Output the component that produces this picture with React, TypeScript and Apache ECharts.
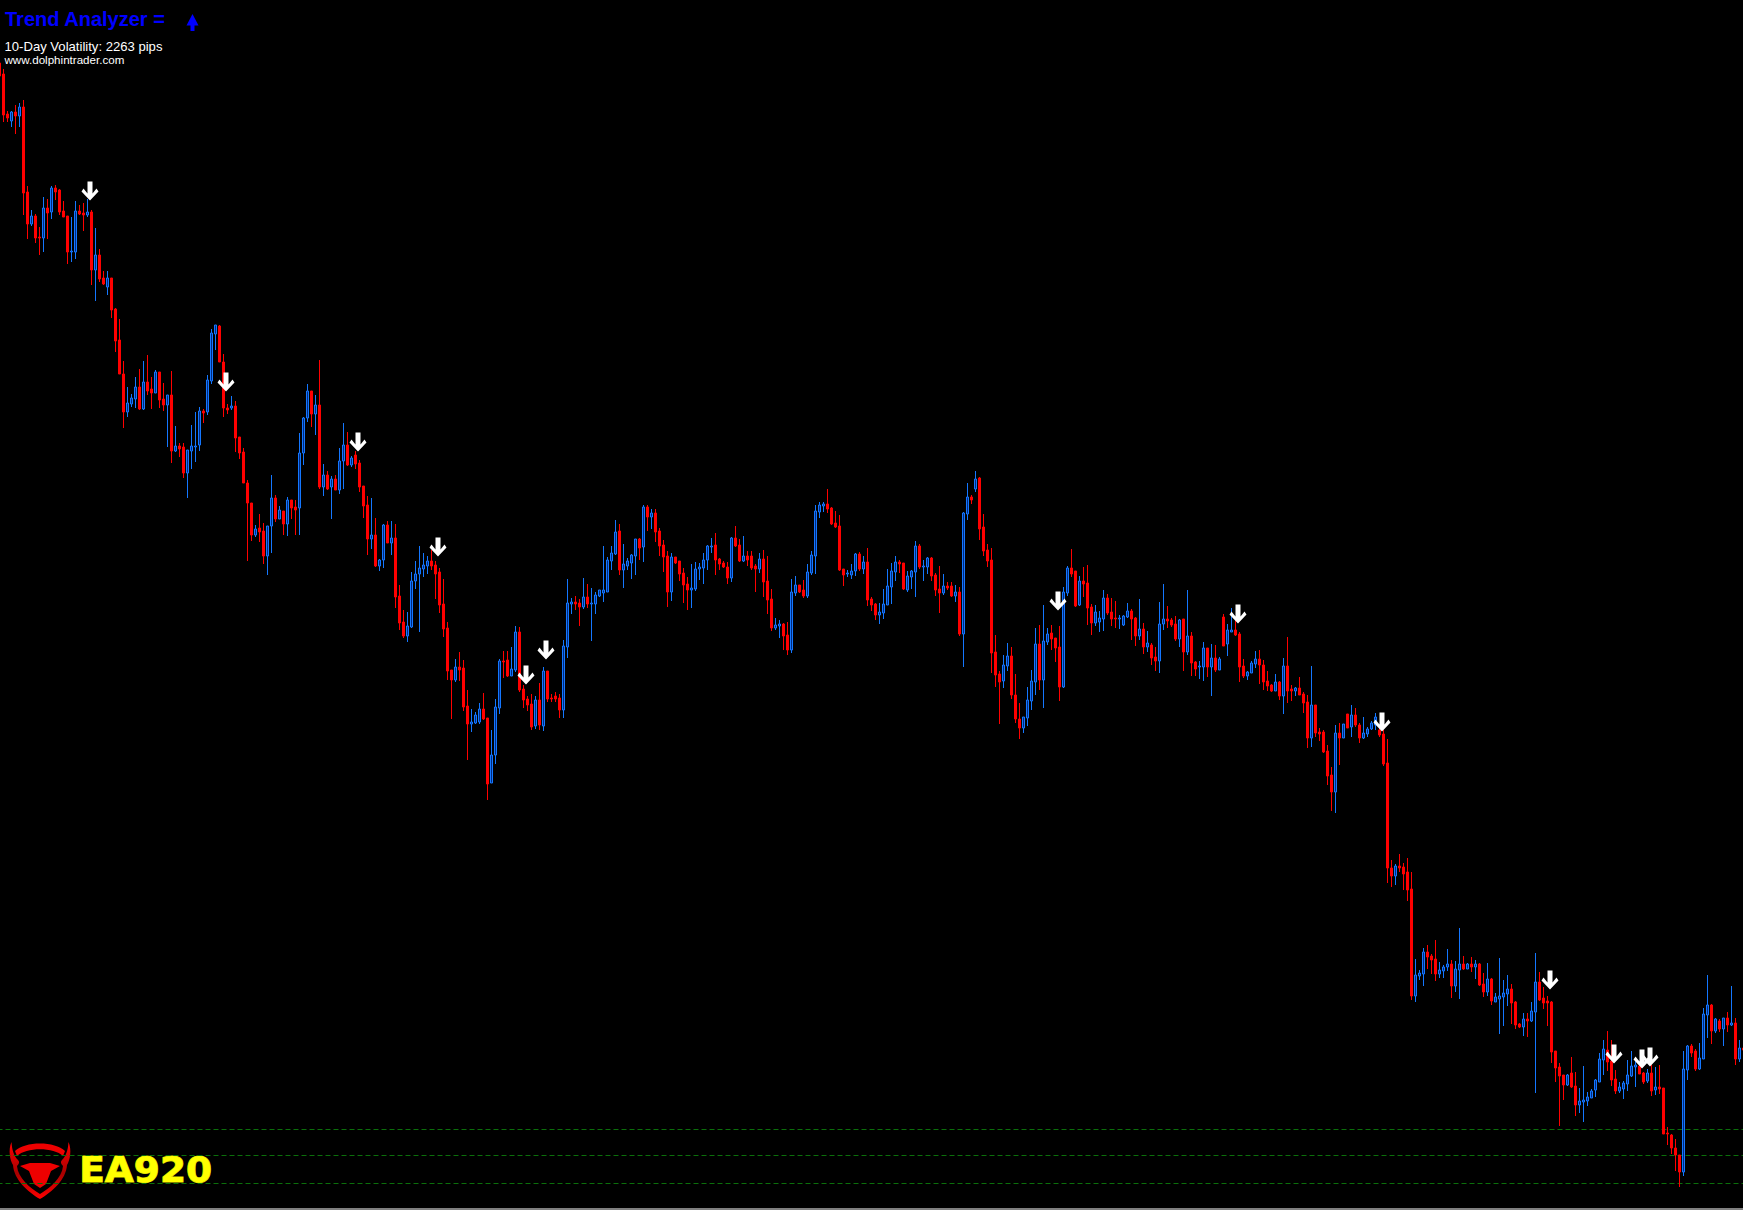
import React, { useEffect, useRef } from "react";
import * as echarts from "echarts";

const SCALE_TOP = 1210;

// [open, close, high, low], one row per bar
const candles: number[][] = [
[63,76,62,76],[74,115,69,122],[114,118,111,122],[121,112,111,127],[112,116,105,134],[116,107,103,127],[107,193,100,215],[192,224,186,239],[224,216,210,226],[216,238,214,243],
[237,238,227,255],[238,208,197,252],[208,213,199,239],[212,188,186,219],[188,192,185,200],[190,212,189,215],[211,217,201,217],[216,252,216,264],[252,251,217,262],[252,211,201,259],
[211,214,205,215],[213,215,203,231],[215,212,199,217],[212,270,210,285],[270,255,228,301],[255,279,249,282],[278,284,271,285],[287,278,271,295],[278,310,278,318],[309,341,308,352],
[340,374,319,374],[374,412,361,428],[412,403,387,417],[404,398,394,407],[399,387,377,408],[387,409,369,410],[409,382,361,410],[382,391,355,395],[389,393,377,409],[393,372,370,393],
[372,400,372,408],[399,405,383,411],[405,395,395,447],[395,451,371,463],[451,446,426,452],[446,449,443,457],[447,473,443,478],[473,450,450,498],[451,446,425,469],[447,446,412,462],
[445,411,407,451],[411,413,409,423],[412,380,375,415],[381,333,329,384],[334,325,325,350],[326,362,325,362],[362,408,354,417],[408,410,404,414],[408,406,396,410],[406,438,401,452],
[437,453,437,459],[452,483,448,483],[483,503,480,561],[503,535,503,541],[535,529,525,537],[528,532,514,542],[531,556,523,564],[556,526,526,575],[526,498,475,553],[498,519,495,522],
[519,510,506,519],[511,524,511,535],[524,500,497,536],[500,508,500,519],[507,510,500,535],[508,453,433,535],[453,418,417,465],[418,391,384,422],[391,414,391,427],[414,405,395,435],
[405,487,360,489],[487,475,464,496],[475,489,471,490],[487,479,476,519],[479,490,475,490],[490,461,448,494],[461,445,423,489],[445,465,432,466],[465,458,456,467],[455,464,451,469],
[463,487,460,492],[486,506,486,518],[505,539,496,555],[539,535,498,549],[535,566,518,567],[566,560,559,571],[560,525,524,568],[525,543,521,543],[543,538,521,555],[538,597,524,608],
[596,623,585,630],[622,636,610,638],[636,626,612,642],[627,581,572,628],[581,574,561,589],[574,568,546,632],[569,565,553,577],[566,561,556,574],[561,566,550,570],[565,574,561,599],
[572,605,568,613],[604,629,579,637],[628,671,622,680],[670,680,670,719],[680,667,659,682],[667,670,652,681],[668,707,660,711],[706,724,690,760],[724,722,709,732],[723,715,712,724],
[722,709,703,724],[709,719,693,720],[718,784,718,800],[783,755,730,783],[755,707,699,764],[708,661,659,714],[661,662,651,678],[660,676,651,677],[676,669,647,676],[670,632,626,672],
[632,690,627,692],[689,700,685,708],[699,705,696,711],[704,727,694,730],[726,700,696,729],[700,725,683,730],[726,671,667,731],[671,699,671,702],[698,699,694,702],[696,699,692,702],
[698,710,694,718],[710,646,640,718],[647,603,579,658],[604,602,598,614],[602,604,596,610],[603,607,599,626],[607,597,578,609],[597,604,584,608],[604,603,588,641],[604,595,592,614],
[596,590,590,597],[593,590,546,602],[592,560,557,592],[561,553,546,570],[554,532,520,555],[531,570,524,575],[570,564,544,588],[566,561,558,570],[563,555,554,579],[556,539,539,575],
[539,548,538,560],[547,507,505,562],[507,517,505,531],[517,513,509,529],[513,532,509,542],[531,546,528,556],[545,557,540,572],[556,592,551,607],[592,557,553,601],[557,563,557,564],
[561,574,561,581],[573,585,568,603],[584,590,577,610],[590,588,564,608],[589,569,562,591],[569,567,563,580],[568,560,553,584],[560,546,545,570],[547,546,538,553],[545,560,533,575],
[559,564,558,570],[563,567,561,568],[567,578,562,584],[578,538,537,582],[538,546,526,547],[545,561,539,562],[561,556,536,562],[556,560,551,566],[556,568,551,570],[566,569,564,592],
[569,559,553,573],[559,582,550,597],[581,600,556,614],[599,628,589,631],[628,625,618,630],[626,624,620,638],[624,636,623,650],[635,650,622,655],[650,592,579,653],[593,585,576,596],
[585,592,585,593],[590,596,580,598],[596,572,564,598],[573,555,551,575],[556,511,505,574],[512,505,502,518],[506,504,502,512],[504,509,489,513],[508,524,507,525],[523,527,511,528],
[526,570,515,571],[569,575,569,586],[574,573,570,577],[575,571,564,579],[571,554,553,576],[554,569,552,571],[569,562,556,574],[562,600,548,606],[599,605,597,611],[604,615,603,620],
[615,612,603,624],[613,604,589,619],[605,586,569,605],[587,571,563,604],[572,562,556,581],[562,564,560,573],[563,589,563,590],[590,576,571,592],[577,571,570,589],[572,546,541,597],
[546,567,544,569],[567,566,560,581],[567,558,557,574],[558,576,557,581],[575,590,573,596],[589,593,566,613],[593,586,574,595],[586,588,582,590],[586,596,582,597],[596,592,585,602],
[592,634,587,636],[634,513,512,667],[514,497,483,520],[497,500,495,504],[489,479,471,492],[478,529,477,540],[527,551,514,556],[550,561,544,567],[560,653,548,673],[652,675,635,687],
[674,682,671,724],[681,665,655,688],[666,656,643,671],[656,695,647,699],[695,719,674,723],[719,728,703,739],[728,717,717,733],[718,700,687,726],[701,681,670,710],[682,644,628,695],
[644,680,625,690],[680,641,605,708],[642,634,628,645],[633,639,625,650],[638,648,638,662],[647,687,626,701],[687,592,587,688],[593,568,566,596],[568,574,549,577],[571,606,571,607],
[605,581,576,606],[581,584,567,597],[583,608,565,625],[607,623,604,635],[623,612,605,626],[622,618,611,632],[619,598,590,631],[598,613,594,615],[612,619,598,626],[618,619,601,628],
[619,618,615,629],[625,616,615,626],[617,611,603,618],[611,619,609,640],[618,636,617,646],[636,629,599,640],[629,647,623,654],[647,643,631,652],[645,658,643,665],[657,661,647,671],
[661,624,602,673],[624,619,584,630],[619,621,606,628],[620,625,618,627],[624,639,616,641],[639,620,619,647],[619,652,619,671],[652,636,590,655],[636,663,632,676],[662,669,661,676],
[667,666,661,679],[667,648,642,681],[648,667,648,677],[667,658,644,696],[658,670,645,672],[670,659,657,670],[617,646,614,646],[644,630,624,656],[632,630,608,632],[630,635,620,636],
[634,667,632,682],[666,676,659,678],[676,672,671,680],[673,663,661,673],[664,659,651,668],[659,665,650,684],[665,682,660,690],[681,686,671,691],[685,691,684,692],[691,682,674,691],
[682,696,681,700],[696,666,658,714],[666,691,637,703],[689,691,685,701],[691,688,687,696],[688,695,677,695],[694,703,692,713],[702,738,695,748],[738,705,666,747],[705,733,705,737],
[732,734,728,741],[732,752,730,753],[751,776,745,785],[775,792,767,811],[792,733,725,813],[733,738,723,765],[738,724,724,738],[714,728,714,728],[727,715,705,737],[715,725,708,727],
[725,738,723,743],[738,733,717,739],[734,729,727,737],[729,723,721,730],[725,717,713,730],[730,735,725,737],[734,764,730,766],[763,868,739,883],[868,876,860,887],[876,866,864,885],
[866,868,854,872],[867,874,863,890],[872,890,858,901],[889,996,872,1000],[996,975,959,1002],[976,973,970,980],[974,952,948,986],[952,957,945,969],[956,960,954,974],[959,974,940,981],
[974,970,962,978],[971,967,965,978],[967,964,949,971],[964,986,960,998],[986,969,961,992],[970,964,928,999],[964,969,956,970],[969,964,963,969],[964,967,957,972],[967,964,960,979],
[964,985,963,986],[984,992,973,997],[992,979,963,996],[979,1001,978,1005],[1002,997,993,1002],[999,996,958,1034],[997,993,980,1026],[994,989,975,1006],[989,1003,984,1024],[1002,1025,1001,1029],
[1024,1027,1023,1028],[1027,1019,1013,1036],[1019,1021,1013,1037],[1021,1011,1002,1022],[1012,982,953,1093],[982,1000,972,1001],[998,1003,987,1009],[1001,1003,996,1026],[1002,1052,1001,1063],[1051,1068,1051,1082],
[1067,1076,1063,1126],[1075,1085,1075,1100],[1085,1075,1074,1086],[1073,1087,1057,1088],[1086,1105,1072,1116],[1105,1101,1088,1113],[1102,1100,1066,1122],[1101,1097,1092,1106],[1098,1091,1089,1098],[1090,1080,1079,1097],
[1082,1059,1053,1082],[1060,1049,1040,1075],[1050,1062,1031,1071],[1061,1080,1040,1086],[1079,1091,1070,1094],[1091,1087,1082,1093],[1089,1083,1081,1099],[1084,1075,1060,1091],[1076,1066,1051,1077],[1067,1065,1060,1087],
[1066,1074,1063,1074],[1073,1082,1072,1084],[1081,1073,1069,1083],[1073,1091,1065,1096],[1090,1087,1067,1095],[1087,1089,1065,1094],[1088,1134,1088,1134],[1133,1134,1127,1145],[1135,1148,1134,1154],[1148,1155,1139,1171],
[1155,1172,1155,1187],[1172,1069,1051,1176],[1070,1046,1045,1080],[1046,1053,1044,1057],[1051,1069,1049,1071],[1069,1058,1043,1070],[1059,1014,1008,1059],[1015,1005,975,1038],[1005,1031,1004,1044],[1031,1019,1018,1033],
[1021,1029,1019,1032],[1029,1018,1018,1046],[1018,1025,1012,1032],[1025,1023,986,1026],[1023,1059,1018,1065],[1059,1048,1040,1062],[1048,1050,1046,1052],
];

const signalBars = [23, 57, 90, 110, 132, 137, 265, 310, 346, 388, 404, 411, 413];
const signalLevels = [191, 382, 442, 547, 675, 650, 601, 614, 722, 980, 1054, 1059, 1057];
const dottedLevels = [1129.5, 1155.5, 1183.5];

const titleText = "Trend Analyzer =";
const volatilityText = "10-Day Volatility: 2263 pips";
const siteText = "www.dolphintrader.com";
const brandText = "EA920";

const ARROW = "path://M6 0L11 0L11 12L15 7L17 10L8.5 19L0 10L2 7L6 12Z";

echarts.graphic.registerShape(
  "bullArc",
  echarts.graphic.extendPath(
    "M15 1151C25 1141 55 1141 65 1151L63 1156C54 1147 26 1147 17 1156Z",
    {}
  )
);
echarts.graphic.registerShape(
  "bullShield",
  echarts.graphic.extendPath(
    "M11.5 1142C8 1150 10 1160 13 1165C14 1180 28 1192 40 1199C52 1192 66 1180 67 1165C70 1160 72 1150 68.5 1142C68 1150 66 1156 62 1160C60 1162 61 1164 63 1166C62 1178 50 1188 40 1194C30 1188 18 1178 17 1166C19 1164 20 1162 18 1160C14 1156 12 1150 11.5 1142Z",
    {}
  )
);
echarts.graphic.registerShape(
  "bullHead",
  echarts.graphic.extendPath(
    "M20 1166L30 1163L50 1163L60 1166L51 1171L46 1184L40 1188L34 1184L29 1171Z",
    {}
  )
);

export default function App() {
  const ref = useRef<HTMLDivElement>(null);
  useEffect(() => {
    document.body.style.margin = "0";
    document.body.style.background = "#000";
    const chart = echarts.init(ref.current!, undefined, { renderer: "svg" });
    const toPrice = (d: number) => SCALE_TOP - d;
    const categories = candles.map((_, i) => String(i));
    const ohlc = candles.map(([o, c, h, l]) => [toPrice(o), toPrice(c), toPrice(l), toPrice(h)]);
    const redGradient = new echarts.graphic.LinearGradient(0, 0, 0, 1, [
      { offset: 0, color: "#ff0000" },
      { offset: 0.55, color: "#a80000" },
      { offset: 1, color: "#ff0000" },
    ]);
    chart.setOption({
      animation: false,
      backgroundColor: "#000000",
      grid: { left: 0.5, top: 0, width: candles.length * 4, height: SCALE_TOP, containLabel: false },
      tooltip: { show: false },
      xAxis: { type: "category", data: categories, show: false, boundaryGap: true },
      yAxis: { type: "value", min: 0, max: SCALE_TOP, show: false, splitLine: { show: false } },
      series: [
        {
          type: "line",
          data: [],
          silent: true,
          z: 1,
          markLine: {
            silent: true,
            z: 1,
            symbol: "none",
            label: { show: false },
            lineStyle: { color: "#0b6f0b", width: 1, type: [5, 3] },
            data: dottedLevels.map((d) => ({ yAxis: toPrice(d) })),
          },
        },
        {
          type: "candlestick",
          data: ohlc,
          barWidth: 2,
          z: 2,
          silent: true,
          itemStyle: {
            color: "#002a80",
            color0: "#ff0000",
            borderColor: "#1477ff",
            borderColor0: "#ff0000",
            borderWidth: 1,
          },
        },
        {
          type: "scatter",
          data: signalBars.map((b, i) => [b, toPrice(signalLevels[i])]),
          symbol: ARROW,
          symbolSize: [17, 19],
          symbolOffset: [-1.5, 0],
          itemStyle: { color: "#ffffff", opacity: 1 },
          silent: true,
          z: 5,
        },
      ],
      graphic: [
        {
          type: "group",
          x: 3,
          y: 0,
          children: [
            { type: "text", x: 5, y: 9, style: { text: titleText, fill: "#0000ff", font: "bold 20px 'Liberation Sans'" } },
            {
              type: "polygon",
              shape: { points: [[192.5, 14], [198.5, 25.5], [194.5, 25.5], [194.5, 31], [190.5, 31], [190.5, 25.5], [186.5, 25.5]] },
              style: { fill: "#0000ff" },
            },
            { type: "text", x: 4.5, y: 40, style: { text: volatilityText, fill: "#ffffff", font: "13.1px 'Liberation Sans'" } },
            { type: "text", x: 4.5, y: 53.5, style: { text: siteText, fill: "#ffffff", font: "11.6px 'Liberation Sans'" } },
            { type: "bullArc", style: { fill: "#ee0000" } },
            { type: "bullShield", style: { fill: redGradient } },
            { type: "bullHead", style: { fill: "#ee0000" } },
            {
              type: "text",
              x: 82.5,
              y: 1152,
              scaleX: 1.04,
              originX: 80,
              style: { text: brandText, fill: "#ffff00", stroke: "#d8d800", lineWidth: 1.2, font: "bold 36px 'DejaVu Sans'" },
            },
            { type: "rect", shape: { x: -3, y: 1208, width: 1750, height: 2 }, style: { fill: "#808080" } },
          ],
        },
      ],
    });
    return () => chart.dispose();
  }, []);
  return (
    <div style={{ position: "fixed", left: 0, top: 0, width: 1743, height: 1210, overflow: "hidden", background: "#000" }}>
      <div ref={ref} style={{ position: "absolute", left: -3, top: 0, width: 1751, height: 1210 }} />
    </div>
  );
}
